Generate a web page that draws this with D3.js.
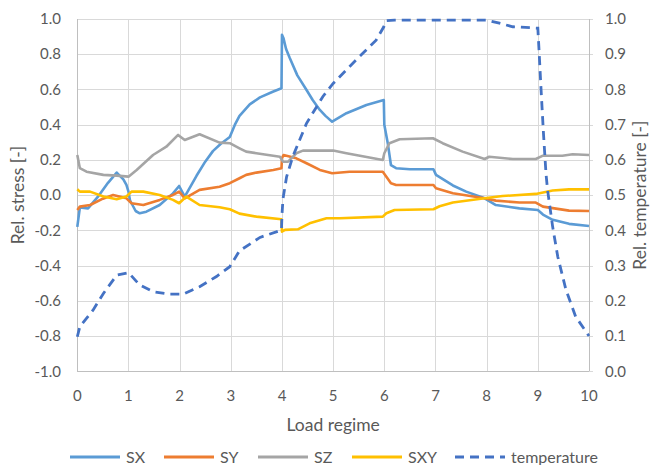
<!DOCTYPE html>
<html>
<head>
<meta charset="UTF-8">
<script src="https://cdn.jsdelivr.net/npm/d3@7"></script>
<style>
  body { margin: 0; background: #fff; }
  text { font-family: Lato, "Open Sans", sans-serif; fill: #595959; }
  .grid line { stroke: #d9d9d9; stroke-width: 1; shape-rendering: crispEdges; }
</style>
</head>
<body>
<script>
// values, [x, value]
var sx = [[0,-0.18],[0.05,-0.07],[0.21,-0.075],[0.4,-0.01],[0.6,0.07],[0.77,0.128],[0.9,0.09],[0.96,0.058],
  [1.0,0.02],[1.03,-0.03],[1.06,-0.046],[1.14,-0.09],[1.22,-0.103],[1.35,-0.094],[1.61,-0.056],[1.87,0.01],
  [1.99,0.052],[2.1,-0.008],[2.33,0.11],[2.5,0.19],[2.65,0.25],[2.8,0.29],[2.98,0.33],[3.08,0.4],[3.17,0.45],
  [3.37,0.515],[3.57,0.555],[3.82,0.587],[3.99,0.607],[4.0,0.91],[4.03,0.89],[4.08,0.83],[4.15,0.78],[4.3,0.68],
  [4.48,0.597],[4.6,0.54],[4.74,0.484],[4.85,0.45],[4.98,0.417],[5.26,0.465],[5.65,0.512],[5.99,0.54],[6.0,0.40],
  [6.07,0.29],[6.13,0.17],[6.23,0.153],[6.5,0.147],[6.96,0.147],[7.01,0.115],[7.34,0.055],[7.6,0.02],[7.96,-0.018],
  [8.18,-0.056],[8.64,-0.075],[9.0,-0.084],[9.1,-0.11],[9.29,-0.14],[9.61,-0.163],[10,-0.175]];
var sy = [[0,-0.084],[0.05,-0.065],[0.25,-0.056],[0.5,-0.02],[0.7,0.001],[0.96,-0.018],[1.06,-0.046],[1.29,-0.056],
  [1.61,-0.027],[1.87,0.001],[1.99,0.02],[2.1,-0.018],[2.39,0.03],[2.78,0.048],[2.98,0.068],[3.17,0.096],[3.3,0.115],
  [3.5,0.128],[3.83,0.143],[3.99,0.153],[4.0,0.21],[4.03,0.228],[4.28,0.209],[4.48,0.181],[4.74,0.143],[4.98,0.124],
  [5.32,0.133],[5.97,0.133],[6.04,0.105],[6.13,0.067],[6.23,0.058],[6.96,0.058],[7.01,0.039],[7.34,0.011],[7.96,-0.018],
  [8.18,-0.031],[8.64,-0.042],[8.96,-0.042],[9.1,-0.065],[9.61,-0.088],[10,-0.09]];
var sz = [[0,0.228],[0.05,0.153],[0.18,0.133],[0.51,0.115],[0.77,0.111],[1.0,0.105],[1.16,0.143],[1.48,0.228],
  [1.74,0.275],[1.97,0.342],[2.1,0.313],[2.39,0.346],[2.78,0.298],[2.98,0.295],[3.17,0.266],[3.3,0.247],[3.5,0.238],
  [3.96,0.218],[4.02,0.19],[4.12,0.19],[4.28,0.238],[4.41,0.253],[5.0,0.253],[5.26,0.238],[5.97,0.2],[6.0,0.238],
  [6.1,0.295],[6.3,0.317],[6.95,0.323],[7.14,0.295],[7.53,0.247],[7.96,0.205],[8.05,0.218],[8.51,0.205],[8.96,0.205],
  [9.1,0.224],[9.48,0.224],[9.68,0.232],[10,0.228]];
var sxy = [[0,0.033],[0.05,0.02],[0.25,0.02],[0.51,-0.008],[0.77,-0.023],[0.96,-0.008],[1.06,0.02],[1.29,0.02],
  [1.61,0.001],[1.87,-0.027],[1.99,-0.046],[2.13,-0.008],[2.39,-0.056],[2.78,-0.069],[2.98,-0.08],[3.17,-0.105],
  [3.5,-0.122],[3.99,-0.137],[4.0,-0.207],[4.06,-0.197],[4.31,-0.194],[4.54,-0.16],[4.87,-0.131],[5.13,-0.131],
  [5.97,-0.122],[6.04,-0.103],[6.2,-0.084],[6.96,-0.08],[7.08,-0.063],[7.34,-0.042],[7.96,-0.018],[8.31,-0.005],
  [8.96,0.007],[9.29,0.026],[9.61,0.033],[10,0.033]];
var temperature = [[0,0.098],[0.05,0.127],[0.31,0.174],[0.51,0.221],[0.77,0.273],[1.0,0.28],[1.22,0.245],[1.48,0.226],
  [1.81,0.219],[2.07,0.219],[2.39,0.24],[2.72,0.269],[2.98,0.297],[3.17,0.342],[3.57,0.38],[3.99,0.401],[4.0,0.444],
  [4.02,0.49],[4.09,0.552],[4.21,0.609],[4.48,0.704],[4.8,0.78],[5.0,0.817],[5.45,0.884],[5.84,0.94],[5.99,0.978],
  [6.04,0.995],[6.2,0.997],[8.0,0.997],[8.25,0.988],[8.51,0.978],[9.0,0.974],[9.02,0.921],[9.06,0.808],[9.11,0.676],
  [9.16,0.56],[9.19,0.515],[9.29,0.41],[9.39,0.325],[9.55,0.231],[9.74,0.155],[10,0.1]];

var seriesNames = ["SX", "SY", "SZ", "SXY", "temperature"];
var seriesColors = ["#5b9bd5", "#ed7d31", "#a5a5a5", "#ffc000", "#4472c4"];
var xTicks = d3.range(0, 11, 1);
var yTicks = d3.range(-1, 1.0001, 0.2);
var y2Ticks = d3.range(0, 1.0001, 0.1);

var width = 654, height = 465;
var plotL = 77.3, plotR = 589, plotT = 19, plotB = 371.3;

var svg = d3.select("body").append("svg")
  .attr("width", width).attr("height", height);

var x = d3.scaleLinear().domain([0, 10]).range([plotL, plotR]);
var y = d3.scaleLinear().domain([-1, 1]).range([plotB, plotT]);
var y2 = d3.scaleLinear().domain([0, 1]).range([plotB, plotT]);

// gridlines
var grid = svg.append("g").attr("class", "grid");
grid.selectAll(".h").data(yTicks).enter().append("line")
  .attr("x1", plotL).attr("x2", plotR + 4)
  .attr("y1", function(d) { return Math.round(y(d)) + 0.5; })
  .attr("y2", function(d) { return Math.round(y(d)) + 0.5; });
grid.selectAll(".v").data(xTicks).enter().append("line")
  .attr("y1", plotT).attr("y2", plotB)
  .attr("x1", function(d) { return Math.round(x(d)) + 0.5; })
  .attr("x2", function(d) { return Math.round(x(d)) + 0.5; });

// axis lines
var ax = svg.append("g").attr("stroke", "#bfbfbf").attr("shape-rendering", "crispEdges");
ax.append("line").attr("x1", plotL).attr("x2", plotR).attr("y1", Math.round(plotB) + 0.5).attr("y2", Math.round(plotB) + 0.5);
ax.append("line").attr("x1", Math.round(plotL) + 0.5).attr("x2", Math.round(plotL) + 0.5).attr("y1", plotT).attr("y2", plotB);
ax.append("line").attr("x1", Math.round(plotR) + 0.5).attr("x2", Math.round(plotR) + 0.5).attr("y1", plotT).attr("y2", plotB);

// tick labels
svg.append("g").selectAll("text").data(yTicks).enter().append("text")
  .attr("x", 61).attr("y", function(d) { return y(d); })
  .attr("dy", "0.35em").attr("text-anchor", "end").attr("font-size", 15)
  .text(function(d) { return d3.format(".1f")(d).replace("−", "-"); });
svg.append("g").selectAll("text").data(y2Ticks).enter().append("text")
  .attr("x", 605).attr("y", function(d) { return y2(d); })
  .attr("dy", "0.35em").attr("font-size", 15)
  .text(function(d) { return d3.format(".1f")(d); });
svg.append("g").selectAll("text").data(xTicks).enter().append("text")
  .attr("x", function(d) { return x(d); }).attr("y", 396)
  .attr("dy", "0.35em").attr("text-anchor", "middle").attr("font-size", 15)
  .text(function(d) { return d; });

// axis titles
svg.append("text").attr("x", (plotL + plotR) / 2).attr("y", 425).attr("dy", "0.35em")
  .attr("text-anchor", "middle").attr("font-size", 17.5).text("Load regime");
svg.append("text").attr("transform", "translate(18," + (plotT + plotB) / 2 + ") rotate(-90)")
  .attr("dy", "0.35em").attr("text-anchor", "middle").attr("font-size", 17.5).text("Rel. stress [-]");
svg.append("text").attr("transform", "translate(640," + (plotT + plotB) / 2 + ") rotate(-90)")
  .attr("dy", "0.35em").attr("text-anchor", "middle").attr("font-size", 17.5).text("Rel. temperature [-]");

// series
var line = d3.line().x(function(d) { return x(d[0]); }).y(function(d) { return y(d[1]); });
var line2 = d3.line().x(function(d) { return x(d[0]); }).y(function(d) { return y2(d[1]); });
var stress = [sx, sy, sz, sxy];
stress.forEach(function(s, i) {
  svg.append("path").datum(s).attr("d", line)
    .attr("fill", "none").attr("stroke", seriesColors[i]).attr("stroke-width", 2.6)
    .attr("stroke-linejoin", "round");
});
svg.append("path").datum(temperature).attr("d", line2)
  .attr("fill", "none").attr("stroke", seriesColors[4]).attr("stroke-width", 2.8)
  .attr("stroke-dasharray", "9,6");

// legend
var legendX = [70, 164, 258, 352, 455];
var leg = svg.append("g").selectAll("g").data(seriesNames).enter().append("g")
  .attr("transform", function(d, i) { return "translate(" + legendX[i] + ",457)"; });
leg.append("line").attr("x1", 0).attr("x2", 50)
  .attr("stroke", function(d, i) { return seriesColors[i]; })
  .attr("stroke-width", 2.8)
  .attr("stroke-dasharray", function(d, i) { return i == 4 ? "9,6" : null; });
leg.append("text").attr("x", 56).attr("dy", "0.35em").attr("font-size", 16)
  .text(function(d) { return d; });
</script>
</body>
</html>
